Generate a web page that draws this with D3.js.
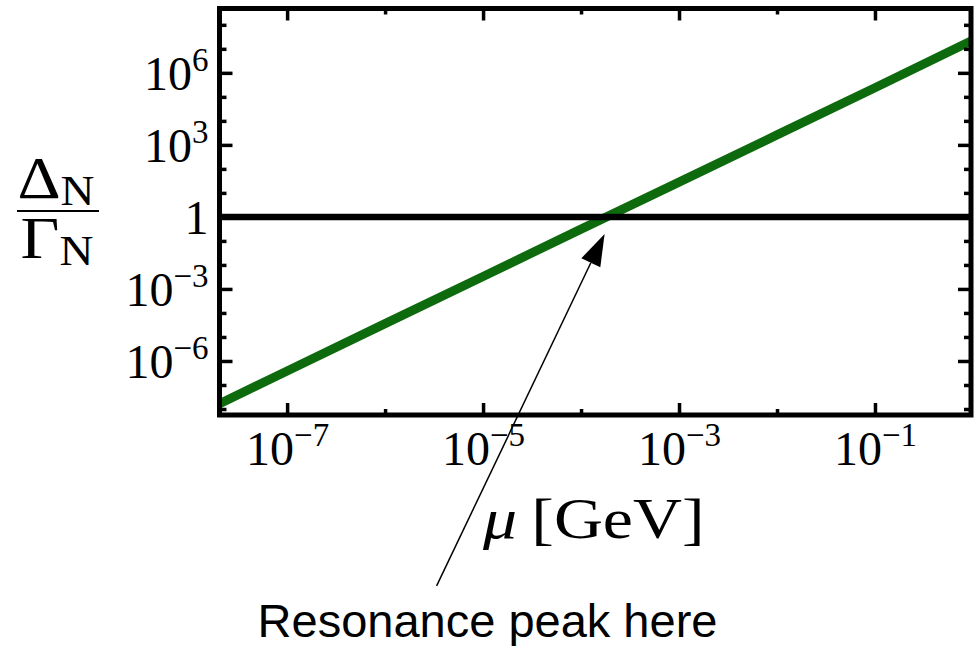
<!DOCTYPE html>
<html>
<head>
<meta charset="utf-8">
<script src="https://cdn.jsdelivr.net/npm/d3@7/dist/d3.min.js"></script>
<style>
  html, body { margin: 0; padding: 0; background: #fff; }
  svg { display: block; }
</style>
</head>
<body>
<svg id="chart" width="974" height="646"></svg>
<script>
// ---- data ----
const mu    = [2e-8, 1e-7, 1e-6, 1e-5, 1e-4, 1e-3, 1e-2, 1e-1, 1];
const ratio = [1.6e-8, 3.8e-7, 3.6e-5, 3.3e-3, 0.31, 28, 2.6e3, 2.4e5, 2.3e7];
const unityLevel = [1, 1];
const xMajorExp = [-7, -5, -3, -1];
const xMinorExp = [-6, -4, -2];
const yMajorExp = [-6, -3, 0, 3, 6];
const yMinorExp = [-8, -7, -5, -4, -2, -1, 1, 2, 4, 5, 7, 8];
const annotationText = "Resonance peak here";
const annotationTip = [1.74e-4, 0.196];   // [mu, ratio] where the arrow points

// ---- layout ----
const W = 974, H = 646;
const L = 219.5, R = 971, T = 8.5, B = 415;
const svg = d3.select("#chart");
const serif = "'Liberation Serif', 'Times New Roman', serif";

const x = d3.scaleLog().domain([Math.pow(10, -7.69), Math.pow(10, -0.02)]).range([L, R]);
const y = d3.scaleLog().domain([Math.pow(10, -8.25), Math.pow(10, 8.68)]).range([B, T]);

svg.append("defs").append("clipPath").attr("id", "clip")
  .append("rect").attr("x", L).attr("y", T).attr("width", R - L).attr("height", B - T);

const plot = svg.append("g").attr("clip-path", "url(#clip)");

// green curve
const pts = mu.map((m, i) => [m, ratio[i]]);
plot.append("path")
  .datum(pts)
  .attr("d", d3.line().x(d => x(d[0])).y(d => y(d[1])))
  .attr("fill", "none")
  .attr("stroke", "#0d6b0d")
  .attr("stroke-width", 9);

// black unity line
plot.append("path")
  .datum(x.domain().map((m, i) => [m, unityLevel[i]]))
  .attr("d", d3.line().x(d => x(d[0])).y(d => y(d[1])))
  .attr("fill", "none")
  .attr("stroke", "#000")
  .attr("stroke-width", 6.5);

// ---- axes ----
function supLabel(sel, exps) {
  sel.each(function(d, i) {
    const e = exps[i];
    const t = d3.select(this);
    t.text(null);
    if (e === 0) { t.text("1"); return; }
    t.append("tspan").text("10");
    t.append("tspan").attr("dy", -19).attr("font-size", 33)
      .text(e < 0 ? "\u2212" + (-e) : String(e));
  });
}

function styleAxis(g) {
  g.select(".domain").remove();
  g.selectAll(".tick line").attr("stroke", "#000").attr("stroke-width", 3.5);
  g.selectAll(".tick text").attr("font-family", serif).attr("font-size", 48).attr("fill", "#000");
}

const xMajor = xMajorExp.map(e => Math.pow(10, e));
const xMinor = xMinorExp.map(e => Math.pow(10, e));
const yMajor = yMajorExp.map(e => Math.pow(10, e));
const yMinor = yMinorExp.map(e => Math.pow(10, e));

// bottom
const gb = svg.append("g").attr("transform", `translate(0,${B})`)
  .call(d3.axisBottom(x).tickValues(xMajor).tickSizeInner(-12).tickSizeOuter(0));
styleAxis(gb);
gb.selectAll(".tick text").attr("y", 50).attr("dy", null).attr("text-anchor", "middle")
  .call(supLabel, xMajorExp);
const gbm = svg.append("g").attr("transform", `translate(0,${B})`)
  .call(d3.axisBottom(x).tickValues(xMinor).tickSizeInner(-6).tickSizeOuter(0).tickFormat(""));
styleAxis(gbm);

// top
const gt = svg.append("g").attr("transform", `translate(0,${T})`)
  .call(d3.axisTop(x).tickValues(xMajor).tickSizeInner(-12).tickSizeOuter(0).tickFormat(""));
styleAxis(gt);
const gtm = svg.append("g").attr("transform", `translate(0,${T})`)
  .call(d3.axisTop(x).tickValues(xMinor).tickSizeInner(-6).tickSizeOuter(0).tickFormat(""));
styleAxis(gtm);

// left
const gl = svg.append("g").attr("transform", `translate(${L},0)`)
  .call(d3.axisLeft(y).tickValues(yMajor).tickSizeInner(-13).tickSizeOuter(0));
styleAxis(gl);
gl.selectAll(".tick text").attr("x", -11).attr("y", 16.5).attr("dy", null).attr("text-anchor", "end")
  .call(supLabel, yMajorExp);
const glm = svg.append("g").attr("transform", `translate(${L},0)`)
  .call(d3.axisLeft(y).tickValues(yMinor).tickSizeInner(-7).tickSizeOuter(0).tickFormat(""));
styleAxis(glm);

// right
const gr = svg.append("g").attr("transform", `translate(${R},0)`)
  .call(d3.axisRight(y).tickValues(yMajor).tickSizeInner(-13).tickSizeOuter(0).tickFormat(""));
styleAxis(gr);
const grm = svg.append("g").attr("transform", `translate(${R},0)`)
  .call(d3.axisRight(y).tickValues(yMinor).tickSizeInner(-7).tickSizeOuter(0).tickFormat(""));
styleAxis(grm);

// frame
svg.append("rect")
  .attr("x", L).attr("y", T).attr("width", R - L).attr("height", B - T)
  .attr("fill", "none").attr("stroke", "#000").attr("stroke-width", 5);

// ---- axis titles ----
const xt = svg.append("text")
  .attr("transform", "translate(483,538) scale(1.19,1)")
  .attr("font-family", serif).attr("font-size", 57).attr("fill", "#000");
xt.append("tspan").attr("font-style", "italic").text("\u03bc");
xt.append("tspan").attr("dx", 12).text("[GeV]");

const yt = svg.append("g").attr("font-family", serif).attr("fill", "#000");
const num = yt.append("text").attr("transform", "translate(56,198) scale(1.12,1)")
  .attr("text-anchor", "middle").attr("font-size", 60);
num.append("tspan").text("\u0394");
num.append("tspan").attr("font-size", 42).attr("dy", 7).text("N");
yt.append("line").attr("x1", 17).attr("x2", 99).attr("y1", 211).attr("y2", 211)
  .attr("stroke", "#000").attr("stroke-width", 2);
const den = yt.append("text").attr("transform", "translate(57,258) scale(1.12,1)")
  .attr("text-anchor", "middle").attr("font-size", 60);
den.append("tspan").text("\u0393");
den.append("tspan").attr("font-size", 42).attr("dy", 7).text("N");

// ---- annotation arrow ----
const tipX = x(annotationTip[0]), tipY = y(annotationTip[1]);
const tailX = tipX - 168, tailY = tipY + 352;
const len = Math.hypot(tipX - tailX, tipY - tailY);
const ux = (tipX - tailX) / len, uy = (tipY - tailY) / len;
const headL = 32, headW = 10.5;
const bx = tipX - ux * headL, by = tipY - uy * headL;
svg.append("line")
  .attr("x1", tailX).attr("y1", tailY).attr("x2", bx).attr("y2", by)
  .attr("stroke", "#000").attr("stroke-width", 1.5);
svg.append("path")
  .attr("d", `M${tipX},${tipY}L${bx - uy * headW},${by + ux * headW}L${bx + uy * headW},${by - ux * headW}Z`)
  .attr("fill", "#000");

svg.append("text")
  .attr("x", 487.5).attr("y", 637)
  .attr("text-anchor", "middle")
  .attr("font-family", "'Liberation Sans', Arial, sans-serif")
  .attr("font-size", 47).attr("fill", "#000")
  .text(annotationText);
</script>
</body>
</html>
